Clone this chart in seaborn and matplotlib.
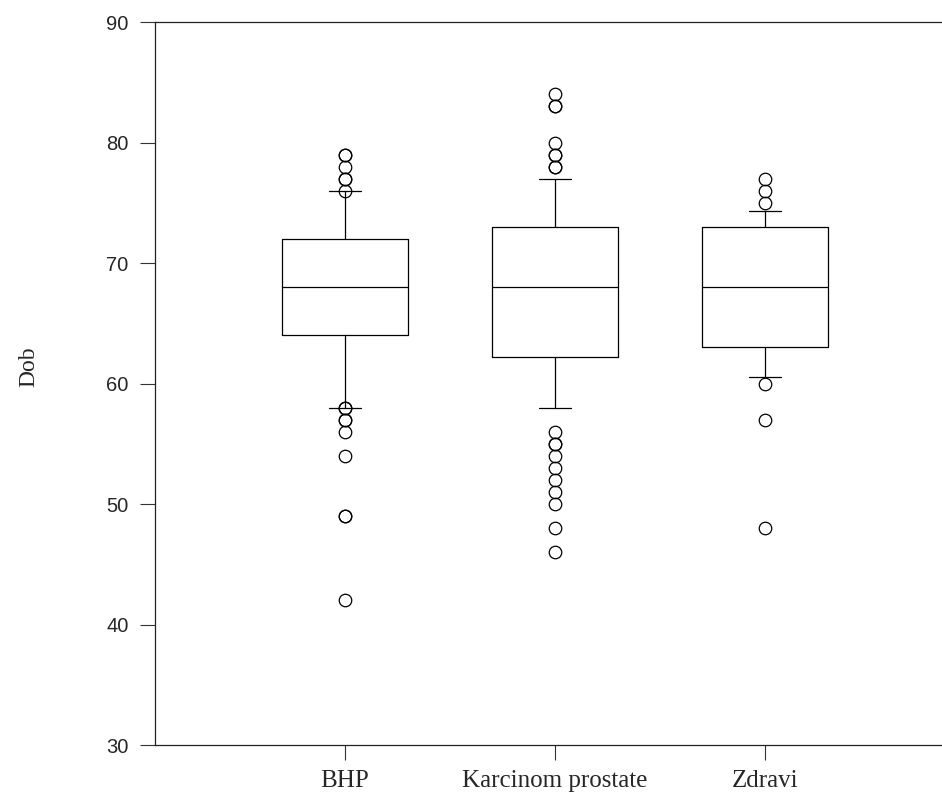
import matplotlib
matplotlib.use('Agg')
import matplotlib.pyplot as plt
import seaborn as sns

# ============================
# Data
# ============================
groups = ['BHP', 'Karcinom prostate', 'Zdravi']
q1 = [64, 62.2, 63]
median = [68, 68, 68]
q3 = [72, 73, 73]
whisker_low = [58, 58, 60.5]
whisker_high = [76, 77, 74.3]
outliers_bhp = [79, 79, 78, 77, 77, 76, 58, 58, 57, 57, 56, 54, 49, 49, 42]
outliers_karcinom = [84, 83, 83, 80, 79, 79, 78, 78,
                     56, 55, 55, 54, 53, 52, 51, 50, 48, 46]
outliers_zdravi = [77, 76, 75, 60, 57, 48]
outliers = [outliers_bhp, outliers_karcinom, outliers_zdravi]
y_ticks = [30, 40, 50, 60, 70, 80, 90]

# ============================
# Style
# ============================
sns.set_style('ticks')
plt.rcParams['font.family'] = ['Liberation Sans', 'DejaVu Sans']

stats = []
for i, g in enumerate(groups):
    stats.append({'label': g, 'q1': q1[i], 'med': median[i], 'q3': q3[i],
                  'whislo': whisker_low[i], 'whishi': whisker_high[i],
                  'fliers': outliers[i]})

fig = plt.figure(figsize=(9.42, 8.01), dpi=100)
ax = fig.add_axes([0.1645, 0.0699, 0.8355, 0.9026])

line = dict(color='black', linewidth=0.9)
ax.bxp(stats, positions=range(len(groups)), widths=0.6, capwidths=0.152,
       patch_artist=False,
       boxprops=line, medianprops=line, whiskerprops=line, capprops=line,
       flierprops=dict(marker='o', markerfacecolor='none',
                       markeredgecolor='black', markersize=9,
                       markeredgewidth=0.9, linestyle='none'))

ax.set_xlim(-0.905, 2.843)
ax.set_ylim(30, 90)
ax.set_yticks(y_ticks)
ax.set_xticks(range(len(groups)))
ax.set_xticklabels(groups, family=['Liberation Serif', 'DejaVu Serif'], fontsize=18)
for lab in ax.get_yticklabels():
    lab.set_fontsize(14.5)

ax.tick_params(axis='y', length=11, width=0.8, pad=8, color='#333333')
ax.tick_params(axis='x', length=11, width=0.8, pad=7, color='#333333')

ax.set_ylabel('Dob', family=['Liberation Serif', 'DejaVu Serif'], fontsize=17, va='center')
ax.yaxis.set_label_coords(-0.160, 0.523)

sns.despine(ax=ax, top=False, right=True)
for side in ['left', 'bottom', 'top']:
    ax.spines[side].set_linewidth(0.9)
    ax.spines[side].set_color('#222222')

fig.savefig('out.png', dpi=100)
